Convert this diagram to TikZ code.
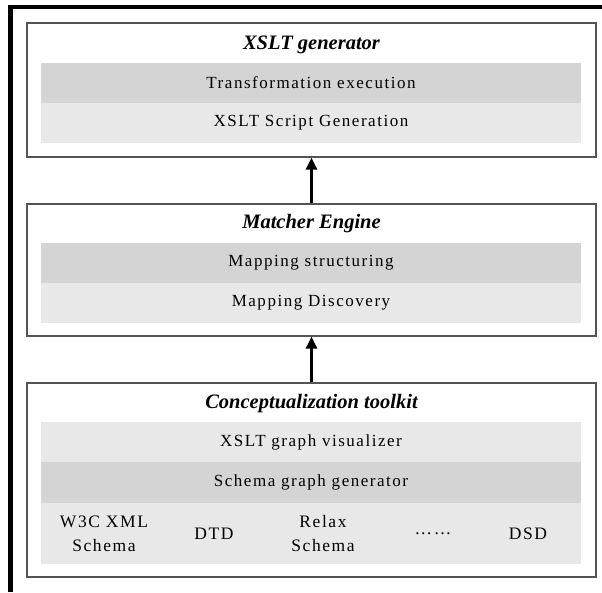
\documentclass[tikz,border=0pt]{standalone}
\usepackage{fontspec}
\setmainfont{Liberation Serif}
\newfontfamily\bandfont{Liberation Serif}[LetterSpace=9]
\usepackage{tikz}
\usetikzlibrary{arrows.meta,positioning}

\begin{document}
\begin{tikzpicture}[x=1pt,y=-1pt, layer/.style={draw=black!67,line width=1.3pt,minimum width=569pt,inner sep=0pt}, band/.style={minimum width=540pt,minimum height=40pt,inner sep=0pt,font=\bandfont\fontsize{17}{20}\selectfont}, title/.style={font=\fontsize{20.5}{24}\selectfont\bfseries\itshape}, uparrow/.style={-{Triangle[length=12pt,width=11pt]},line width=3pt}]
   \useasboundingbox (0,0) rectangle (602,592);
   \draw [line width=4.5pt] (10.5,592) -- (10.5,7) -- (602,7);
   % layers
   \node [layer,minimum height=134pt] (gen) at (311.5,90) {};
   \node [layer,minimum height=132pt] (match) at (311.5,270) {};
   \node [layer,minimum height=194pt] (concept) at (311.5,480) {};
   \node [title] (gentitle) at (311.5,45) {XSLT generator};
   \node [title] (matchtitle) at (311.5,224) {Matcher Engine};
   \node [title] (concepttitle) at (311.5,404) {Conceptualization toolkit};
   % bands
   \node [band,fill=black!17] (exec) at (311,83) {Transformation execution};
   \node [band,fill=black!9] (script) at (311,123) {XSLT Script Generation};
   \node [band,fill=black!17] (struct) at (311,263) {Mapping structuring};
   \node [band,fill=black!9] (disc) at (311,303) {Mapping Discovery};
   \node [band,fill=black!9] (visu) at (311,442) {XSLT graph visualizer};
   \node [band,fill=black!17,minimum height=41pt] (sgen) at (311,482.5) {Schema graph generator};
   \node [band,fill=black!9,minimum height=61pt] (schemas) at (311,533.5) {};
   \foreach \x/\name/\txt in {104/w3c/W3C XML\\Schema, 214/dtd/DTD, 323/relax/Relax\\Schema, 433/dots/\ldots\ldots, 528/dsd/DSD}
      \node [align=center,inner sep=0pt,font=\bandfont\fontsize{17.5}{24}\selectfont] (\name) at (\x,534) {\txt};
   % arrows
   \draw [uparrow] (match.north) -- (gen.south);
   \draw [uparrow] (concept.north) -- (match.south);
\end{tikzpicture}
\end{document}
